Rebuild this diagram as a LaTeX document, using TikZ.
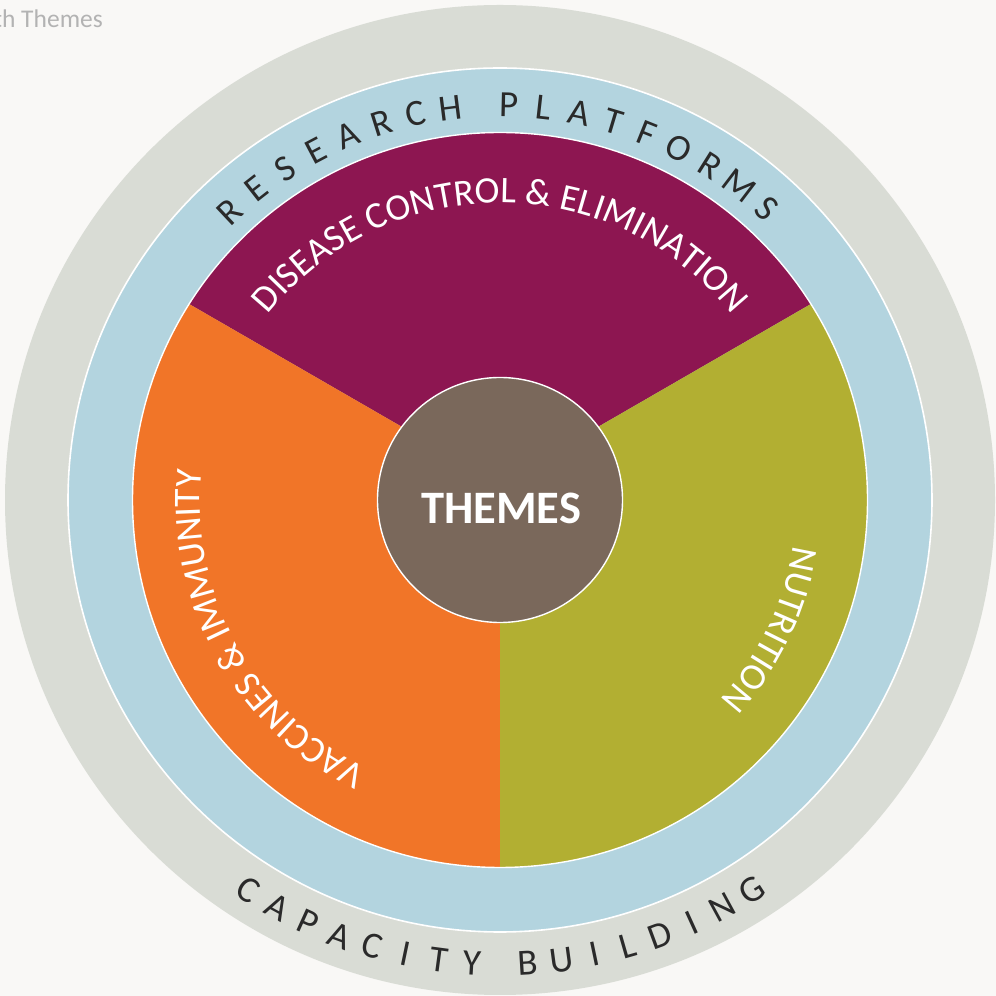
\documentclass[tikz,border=0pt]{standalone}
\usepackage{fontspec}
\setmainfont{Carlito}
\usetikzlibrary{calc,decorations.text}
\definecolor{bgc}{HTML}{F9F8F6}
\definecolor{ringgray}{HTML}{D9DCD5}
\definecolor{ringblue}{HTML}{B3D4DF}
\definecolor{thpurple}{HTML}{8D1651}
\definecolor{thorange}{HTML}{F17528}
\definecolor{tholive}{HTML}{B2AF32}
\definecolor{hubbrown}{HTML}{7A685B}
\definecolor{trackc}{HTML}{2A2A2A}
\definecolor{titlegray}{HTML}{B3B3B3}
\newcommand\themefont{\fontsize{37.5}{40}\selectfont}
\tikzset{
  track/.style={font=\fontsize{37}{40}\selectfont, text=trackc, anchor=base, inner sep=0pt},
  sep/.style={draw=white, line width=1.6pt},
  themetext/.style={decorate, decoration={text along path, text align=center, text color=white}}
}
\begin{document}
\begin{tikzpicture}[x=1pt,y=1pt]
\useasboundingbox (0,0) rectangle (996,996);
\clip (0,0) rectangle (996,996);
\fill[bgc] (0,0) rectangle (996,996);
\coordinate (C) at (500,496);
\coordinate (J) at (500,512.5);
% rings
\fill[ringgray] (C) circle[radius=495];
\fill[ringblue] (C) circle[radius=432];
\draw[sep] (C) circle[radius=432];
% sectors
\begin{scope}
  \clip (C) circle[radius=367.5];
  \fill[thpurple] (J) -- ($(J)+(150:800)$) -- ($(J)+(90:800)$) -- ($(J)+(30:800)$) -- cycle;
  \fill[thorange] (J) -- ($(J)+(150:800)$) -- ($(J)+(210:800)$) -- ($(J)+(270:800)$) -- cycle;
  \fill[tholive] (J) -- ($(J)+(270:800)$) -- ($(J)+(330:800)$) -- ($(J)+(30:800)$) -- cycle;
\end{scope}
\draw[sep, line width=1.4pt] (C) circle[radius=367.5];
% hub
\node[circle, fill=hubbrown, draw=white, line width=1.4pt, minimum size=245pt, inner sep=0pt] (hub) at (C) {};
\node[font=\fontsize{46.5}{50}\selectfont\bfseries, text=white, anchor=base, inner sep=0pt] (themes) at (501,472) {THEMES};
% theme labels along arcs
\path[themetext, decoration={text={|\themefont|DISEASE CONTROL {\&} ELIMINATION}}]
  ($(C)+(180:297)$) arc[start angle=180, end angle=0, radius=297];
\path[themetext, decoration={text={|\themefont|VACCINES {\&} IMMUNITY}}]
  ($(C)+(299:300)$) arc[start angle=299, end angle=119, radius=300];
\path[themetext, decoration={text={|\themefont|NUTRITION}}]
  ($(C)+(64.5:297)$) arc[start angle=64.5, end angle=-115.5, radius=297];
% RESEARCH PLATFORMS
\foreach \ch [count=\i from 0] in {R,E,S,E,A,R,C,H}{
  \node[track, rotate={133.2-\i*5.15-90}] (rpa\i) at ($(C)+({133.2-\i*5.15}:383)$) {\ch};
}
\foreach \ch [count=\i from 0] in {P,L,A,T,F,O,R,M,S}{
  \node[track, rotate={88.75-\i*5.15-90}] (rpb\i) at ($(C)+({88.75-\i*5.15}:383)$) {\ch};
}
% CAPACITY BUILDING
\foreach \ch [count=\i from 0] in {C,A,P,A,C,I,T,Y}{
  \node[track, rotate={237.2+\i*4.2+90}] (cba\i) at ($(C)+({237.2+\i*4.2}:476)$) {\ch};
}
\foreach \ch [count=\i from 0] in {B,U,I,L,D,I,N,G}{
  \node[track, rotate={273.4+\i*4.2+90}] (cbb\i) at ($(C)+({273.4+\i*4.2}:476)$) {\ch};
}
% partial title
\node[anchor=base east, text=titlegray, font=\fontsize{25.5}{30}\selectfont, inner sep=0pt] (title) at (103,968) {th Themes};
\end{tikzpicture}
\end{document}
